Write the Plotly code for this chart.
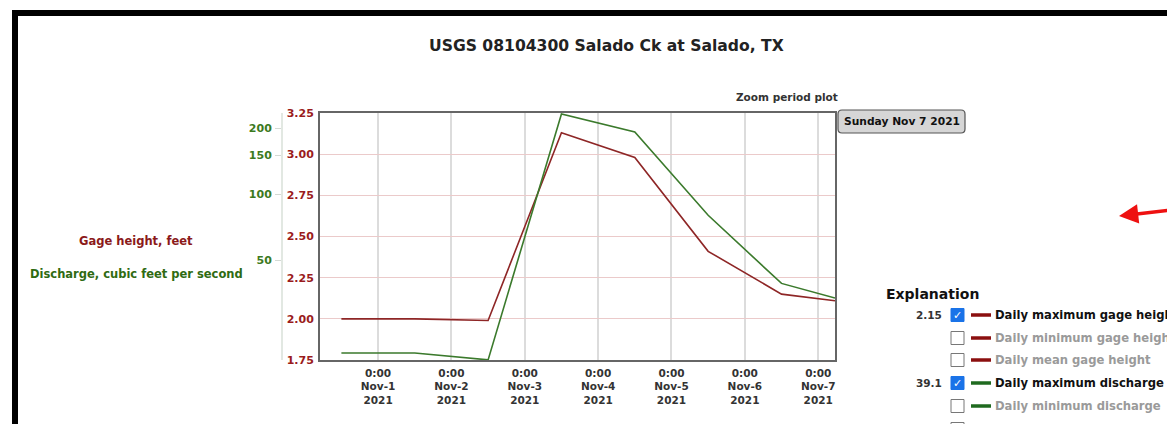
import plotly.graph_objects as go

# ---------------- data ----------------
dates = ["2021-10-31 12:00", "2021-11-01 12:00", "2021-11-02 12:00", "2021-11-03 12:00",
         "2021-11-04 12:00", "2021-11-05 12:00", "2021-11-06 12:00", "2021-11-07 05:30"]
gage_max = [2.00, 2.00, 1.99, 3.13, 2.98, 2.41, 2.15, 2.11]
discharge_max = [18.8, 18.8, 17.5, 232, 192, 80, 39.1, 33.5]

tick_dates = ["2021-11-01", "2021-11-02", "2021-11-03", "2021-11-04",
              "2021-11-05", "2021-11-06", "2021-11-07"]
tick_text = ["0:00<br>Nov-1<br>2021", "0:00<br>Nov-2<br>2021", "0:00<br>Nov-3<br>2021",
             "0:00<br>Nov-4<br>2021", "0:00<br>Nov-5<br>2021", "0:00<br>Nov-6<br>2021",
             "0:00<br>Nov-7<br>2021"]
gage_ticks = [1.75, 2.00, 2.25, 2.50, 2.75, 3.00, 3.25]
discharge_ticks = [50, 100, 150, 200]

legend_rows = [
    ("2.15", True, "red", "Daily maximum gage height"),
    ("", False, "red", "Daily minimum gage height"),
    ("", False, "red", "Daily mean gage height"),
    ("39.1", True, "green", "Daily maximum discharge"),
    ("", False, "green", "Daily minimum discharge"),
    ("", False, "green", "Daily mean discharge"),
]

title = "USGS 08104300 Salado Ck at Salado, TX"

# ---------------- layout helpers ----------------
# page has an 8px body margin; helpers take page pixel coordinates
W, H = 1175, 424
ML, MR, MT, MB = 192, 348, 105, 72
PW = W - ML - MR
PH = H - MT - MB


def px(x):
    return (x - 8 - ML) / PW


def py(y):
    return (H - MB - (y - 8)) / PH


RED = "#8e2626"
GREEN = "#3b7a2c"
RED_TXT = "#9a1c1c"
GREEN_TXT = "#3c7a1e"
FONT = "DejaVu Sans"

fig = go.Figure()
fig.add_trace(go.Scatter(x=dates, y=gage_max, mode="lines", line=dict(color=RED, width=1.6),
                         yaxis="y", name="Daily maximum gage height", showlegend=False))
fig.add_trace(go.Scatter(x=dates, y=discharge_max, mode="lines", line=dict(color=GREEN, width=1.6),
                         yaxis="y2", name="Daily maximum discharge", showlegend=False))

fig.update_layout(
    width=W, height=H,
    margin=dict(l=ML, r=MR, t=MT, b=MB),
    paper_bgcolor="white", plot_bgcolor="white",
    font=dict(family=FONT, size=11, color="#333"),
    xaxis=dict(
        domain=[px(320), 1],
        type="date",
        range=["2021-10-31 05:00", "2021-11-07 05:30"],
        tickvals=tick_dates, ticktext=tick_text,
        tickfont=dict(family=FONT, size=10.5, color="#333", weight="bold"),
        showgrid=True, gridcolor="#dcdcdc", gridwidth=2,
        showline=True, linecolor="#666", linewidth=2, mirror=True,
        ticks="", ticklabelstandoff=2,
        zeroline=False,
    ),
    yaxis=dict(
        range=[1.75, 3.25], tickvals=gage_ticks, tickformat=".2f",
        tickfont=dict(family=FONT, size=11, color=RED_TXT, weight="bold"),
        showgrid=True, gridcolor="#ebcaca", gridwidth=1,
        showline=True, linecolor="#666", linewidth=2, mirror=True,
        ticks="", ticklabelstandoff=2, zeroline=False,
    ),
    yaxis2=dict(
        type="log", range=[1.2424, 2.3702], overlaying="y", side="left",
        anchor="free", position=px(282),
        tickvals=discharge_ticks, ticktext=[str(v) for v in discharge_ticks],
        tickfont=dict(family=FONT, size=11, color=GREEN_TXT, weight="bold"),
        showgrid=False, showline=True, linecolor="#e2e8e2", linewidth=2,
        ticks="outside", ticklen=6, tickcolor="#d4dad4", tickwidth=1,
        ticklabelstandoff=1, zeroline=False,
    ),
)

shapes = []
ann = []

# black frame (top and left)
shapes.append(dict(type="rect", xref="paper", yref="paper", x0=px(12), x1=px(1190), y0=py(10), y1=py(16),
                   fillcolor="black", line=dict(width=0), layer="above"))
shapes.append(dict(type="rect", xref="paper", yref="paper", x0=px(12), x1=px(18), y0=py(10), y1=py(440),
                   fillcolor="black", line=dict(width=0), layer="above"))

# title
ann.append(dict(text="<b>" + title + "</b>", xref="paper", yref="paper", x=px(606), y=py(46),
                showarrow=False, font=dict(family=FONT, size=15.6, color="#222"),
                xanchor="center", yanchor="middle"))
ann.append(dict(text="<b>Zoom period plot</b>", xref="paper", yref="paper", x=px(787), y=py(97),
                showarrow=False, font=dict(family=FONT, size=10.5, color="#333"),
                xanchor="center", yanchor="middle"))

# date tooltip with rounded box
bx0, bx1, by0, by1, r = 838, 965, 110, 133, 4


def rounded_path(x0, x1, y0, y1, rr):
    pts = []
    pts.append(f"M {px(x0 + rr)} {py(y0)}")
    pts.append(f"L {px(x1 - rr)} {py(y0)}")
    pts.append(f"Q {px(x1)} {py(y0)} {px(x1)} {py(y0 + rr)}")
    pts.append(f"L {px(x1)} {py(y1 - rr)}")
    pts.append(f"Q {px(x1)} {py(y1)} {px(x1 - rr)} {py(y1)}")
    pts.append(f"L {px(x0 + rr)} {py(y1)}")
    pts.append(f"Q {px(x0)} {py(y1)} {px(x0)} {py(y1 - rr)}")
    pts.append(f"L {px(x0)} {py(y0 + rr)}")
    pts.append(f"Q {px(x0)} {py(y0)} {px(x0 + rr)} {py(y0)} Z")
    return " ".join(pts)


shapes.append(dict(type="path", xref="paper", yref="paper", path=rounded_path(bx0, bx1, by0, by1, r),
                   fillcolor="#d6d6d6", line=dict(color="#555", width=1.2), layer="above"))
ann.append(dict(text="<b>Sunday Nov 7 2021</b>", xref="paper", yref="paper", x=px(901.5), y=py(121.5),
                showarrow=False, font=dict(family=FONT, size=10.7, color="#111"),
                xanchor="center", yanchor="middle"))

# axis titles
ann.append(dict(text="<b>Gage height, feet</b>", xref="paper", yref="paper", x=px(136), y=py(241),
                showarrow=False, font=dict(family=FONT, size=11.5, color="#8b1a1a"),
                xanchor="center", yanchor="middle"))
ann.append(dict(text="<b>Discharge, cubic feet per second</b>", xref="paper", yref="paper",
                x=px(136), y=py(274), showarrow=False,
                font=dict(family=FONT, size=11.5, color="#2f6b12"),
                xanchor="center", yanchor="middle"))

# red arrow
ann.append(dict(text="", xref="paper", yref="paper", x=px(1119), y=py(216), ax=62, ay=-7,
                showarrow=True, arrowhead=2, arrowsize=1.1, arrowwidth=3.5, arrowcolor="#ee1111"))

# explanation legend
ann.append(dict(text="<b>Explanation</b>", xref="paper", yref="paper", x=px(884), y=py(294),
                showarrow=False, font=dict(family=FONT, size=14, color="#111"),
                xanchor="left", yanchor="middle"))
row_y = [315, 338, 360, 383, 406, 429]
for (val, checked, col, label), yy in zip(legend_rows, row_y):
    line_col = "#8b0f0f" if col == "red" else "#1f6a1f"
    if val:
        ann.append(dict(text="<b>" + val + "</b>", xref="paper", yref="paper", x=px(944), y=py(yy),
                        showarrow=False, font=dict(family=FONT, size=10.5, color="#333"),
                        xanchor="right", yanchor="middle"))
    if checked:
        shapes.append(dict(type="rect", xref="paper", yref="paper", x0=px(951), x1=px(964),
                           y0=py(yy + 6.5), y1=py(yy - 6.5), fillcolor="#1a73e8",
                           line=dict(color="#1a73e8", width=1), layer="above"))
        ann.append(dict(text="<b>✓</b>", xref="paper", yref="paper", x=px(957.5), y=py(yy),
                        showarrow=False, font=dict(family=FONT, size=11, color="white"),
                        xanchor="center", yanchor="middle"))
    else:
        shapes.append(dict(type="rect", xref="paper", yref="paper", x0=px(951), x1=px(964),
                           y0=py(yy + 6.5), y1=py(yy - 6.5), fillcolor="white",
                           line=dict(color="#777", width=1), layer="above"))
    shapes.append(dict(type="line", xref="paper", yref="paper", x0=px(971), x1=px(991),
                       y0=py(yy), y1=py(yy), line=dict(color=line_col, width=3.5), layer="above"))
    ann.append(dict(text="<b>" + label + "</b>", xref="paper", yref="paper", x=px(993), y=py(yy),
                    showarrow=False,
                    font=dict(family=FONT, size=11.6, color="#111" if checked else "#9a9a9a"),
                    xanchor="left", yanchor="middle"))

fig.update_layout(shapes=shapes, annotations=ann)
fig.write_html("out.html")
